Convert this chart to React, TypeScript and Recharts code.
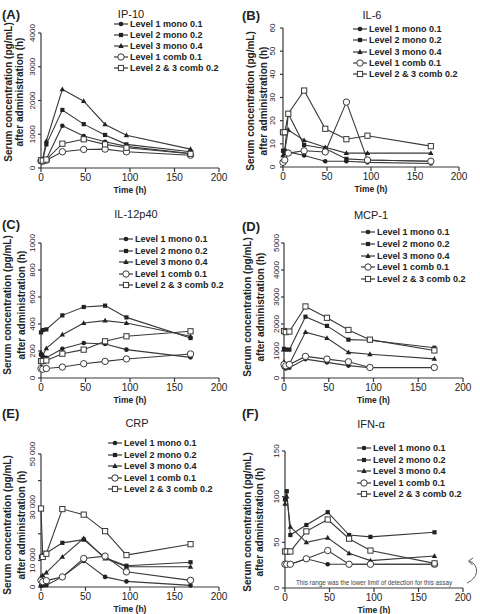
import React from "react";
import { LineChart, Line, XAxis, YAxis, Legend } from "recharts";

// Sampling times (h) shared by every panel
const TIMES = [0, 2, 6, 24, 48, 72, 96, 168];
const X_TICKS = [0, 50, 100, 150, 200];
const SERIES_NAMES = [
  "Level 1 mono 0.1",
  "Level 2 mono 0.2",
  "Level 3 mono 0.4",
  "Level 1 comb 0.1",
  "Level 2 & 3 comb 0.2",
];
const SHAPES = ["dot", "square", "triangle", "circle", "box"];

// (A) IP-10
const ip10L1Mono = [220, 230, 260, 1250, 950, 780, 640, 430];
const ip10L2Mono = [230, 240, 700, 1720, 1300, 980, 700, 480];
const ip10L3Mono = [250, 260, 800, 2330, 1980, 1290, 970, 560];
const ip10L1Comb = [210, 200, 230, 480, 550, 560, 480, 380];
const ip10L23Comb = [230, 220, 250, 720, 850, 700, 600, 420];
const ip10Ticks = [0, 1000, 2000, 3000, 4000];

// (B) IL-6
const il6L1Mono = [2, 6, 6.5, 5, 2.5, 2.5, 2, 1.5];
const il6L2Mono = [7, 7, 23, 9.5, 8, 3.5, 3, 2.5];
const il6L3Mono = [5, 7, 16, 11.5, 8.5, 6, 6, 6];
const il6L1Comb = [2, 3, 6, 7, 6.5, 28, 3, 2.5];
const il6L23Comb = [15, 15, 23, 33, 16.5, 12, 13.5, 9];
const il6Ticks = [0, 10, 20, 30, 40, 50, 60];

// (C) IL-12p40
const il12L1Mono = [170, 160, 150, 217, 259, 252, 210, 153];
const il12L2Mono = [338, 355, 360, 464, 526, 536, 449, 296];
const il12L3Mono = [190, 170, 220, 321, 407, 425, 407, 309];
const il12L1Comb = [70, 65, 70, 81, 106, 123, 141, 178];
const il12L23Comb = [125, 125, 130, 180, 210, 272, 309, 346];
const il12Ticks = [0, 200, 400, 600, 800, 1000];

// (D) MCP-1
const mcpL1Mono = [400, 350, 380, 700, 580, 460, 380, 380];
const mcpL2Mono = [1080, 1050, 1050, 2270, 1930, 1420, 1400, 1120];
const mcpL3Mono = [600, 500, 520, 1700, 1480, 950, 880, 710];
const mcpL1Comb = [500, 450, 500, 800, 700, 600, 390, 390];
const mcpL23Comb = [1740, 1700, 1720, 2650, 2230, 1780, 1420, 1020];
const mcpTicks = [0, 1000, 2000, 3000, 4000, 5000];

// (E) CRP
const crpL1Mono = [500, 600, 700, 3800, 9800, 3800, 2100, 600];
const crpL2Mono = [11300, 11800, 12800, 16600, 17800, 11000, 8000, 9300];
const crpL3Mono = [3800, 4400, 5400, 11300, 18300, 10700, 7600, 7600];
const crpL1Comb = [2500, 2000, 2400, 3800, 10700, 11600, 5700, 2500];
const crpL23Comb = [29500, 11300, 12500, 29300, 27200, 21000, 12000, 16100];
const crpTicks = [0, 10000, 20000, 30000, 40000, 50000];
const crpTickLabels = ["0", "10 000", "", "30 000", "", "50 000"];

// (F) IFN-α
const ifnL1Mono = [26, 26, 26, 32, 26, 26, 26, 26];
const ifnL2Mono = [97, 106, 58, 69, 83, 58, 56, 61];
const ifnL3Mono = [92, 100, 67, 50, 55, 38, 30, 35];
const ifnL1Comb = [26, 26, 26, 32, 41, 26, 26, 26];
const ifnL23Comb = [40, 40, 40, 62, 75, 54, 41, 27];
const ifnTicks = [0, 50, 100, 150];

const FONT = "'Liberation Sans', Arial, sans-serif";
const INK = "#222";
const LINE = "#383838";
const W = 240;
const H = 214;
const Y_W = 20;
const X_H = 30;

type PanelCfg = {
  tag: string;
  title: string;
  left: number;
  top: number;
  series: number[][];
  yTicks: number[];
  yLabels?: string[];
  plot: { l: number; r: number; t: number; b: number };
  tickOff: number;
  titleAt: [number, number];
  tagY: number;
  yTitle: [number, number, number];
  legend: [number, number, number];
  note?: boolean;
};

const PANELS: PanelCfg[] = [
  {
    tag: "(A)", title: "IP-10", left: 0, top: 0,
    series: [ip10L1Mono, ip10L2Mono, ip10L3Mono, ip10L1Comb, ip10L23Comb],
    yTicks: ip10Ticks, plot: { l: 41, r: 219, t: 33, b: 168 }, tickOff: 9,
    titleAt: [131, 14], tagY: 14, yTitle: [8, 19, 92], legend: [121, 24, 11.1],
  },
  {
    tag: "(B)", title: "IL-6", left: 240, top: 0,
    series: [il6L1Mono, il6L2Mono, il6L3Mono, il6L1Comb, il6L23Comb],
    yTicks: il6Ticks, plot: { l: 43, r: 219, t: 28, b: 167 }, tickOff: 11,
    titleAt: [132, 15], tagY: 15, yTitle: [10, 23, 101], legend: [120, 29, 11.25],
  },
  {
    tag: "(C)", title: "IL-12p40", left: 0, top: 200,
    series: [il12L1Mono, il12L2Mono, il12L3Mono, il12L1Comb, il12L23Comb],
    yTicks: il12Ticks, plot: { l: 41, r: 219, t: 43, b: 178 }, tickOff: 9,
    titleAt: [136, 14], tagY: 24, yTitle: [7, 21, 105], legend: [126, 39, 11.5],
  },
  {
    tag: "(D)", title: "MCP-1", left: 240, top: 200,
    series: [mcpL1Mono, mcpL2Mono, mcpL3Mono, mcpL1Comb, mcpL23Comb],
    yTicks: mcpTicks, plot: { l: 44, r: 223, t: 43, b: 178 }, tickOff: 8,
    titleAt: [131, 15], tagY: 26, yTitle: [7, 20, 107], legend: [128, 32, 11.75],
  },
  {
    tag: "(E)", title: "CRP", left: 0, top: 400,
    series: [crpL1Mono, crpL2Mono, crpL3Mono, crpL1Comb, crpL23Comb],
    yTicks: crpTicks, yLabels: crpTickLabels,
    plot: { l: 41, r: 219, t: 54, b: 187 }, tickOff: 9,
    titleAt: [137, 23], tagY: 13, yTitle: [7, 21, 125], legend: [115, 43, 11.5],
  },
  {
    tag: "(F)", title: "IFN-α", left: 240, top: 400,
    series: [ifnL1Mono, ifnL2Mono, ifnL3Mono, ifnL1Comb, ifnL23Comb],
    yTicks: ifnTicks, plot: { l: 45, r: 223, t: 51, b: 188 }, tickOff: 9,
    titleAt: [131, 24], tagY: 13, yTitle: [7, 19, 122], legend: [124, 48, 11.5],
    note: true,
  },
];

function mark(shape: string, cx: number, cy: number, key?: string) {
  switch (shape) {
    case "dot":
      return <circle key={key} cx={cx} cy={cy} r={2.3} fill={INK} />;
    case "square":
      return <rect key={key} x={cx - 2.1} y={cy - 2.1} width={4.2} height={4.2} fill={INK} />;
    case "triangle":
      return (
        <path key={key} d={`M${cx},${cy - 2.9}L${cx + 2.7},${cy + 1.9}L${cx - 2.7},${cy + 1.9}Z`} fill={INK} />
      );
    case "circle":
      return <circle key={key} cx={cx} cy={cy} r={3.2} fill="#fff" stroke={LINE} strokeWidth={1} />;
    default:
      return (
        <rect key={key} x={cx - 2.6} y={cy - 2.6} width={5.2} height={5.2} fill="#fff" stroke={LINE} strokeWidth={1} />
      );
  }
}

function Panel({ p }: { p: PanelCfg }) {
  const rows = TIMES.map((t, i) => {
    const r: Record<string, number> = { t };
    p.series.forEach((s, k) => (r["s" + k] = s[i]));
    return r;
  });
  const yMax = p.yTicks[p.yTicks.length - 1];
  const [lx, ly, lstep] = p.legend;

  const renderYTick = (props: any) => {
    const { y, payload, index } = props;
    const bx = p.plot.l - p.tickOff + 3;
    const label = p.yLabels ? p.yLabels[index] : String(payload.value);
    return (
      <text x={bx} y={y} transform={`rotate(-90 ${bx} ${y})`} textAnchor="middle"
        fontSize={8} fill={INK} fontFamily={FONT}>
        {label}
      </text>
    );
  };

  const legendContent = () => (
    <div style={{ fontFamily: FONT, fontSize: 9, fontWeight: "bold", color: INK }}>
      {SERIES_NAMES.map((n, k) => (
        <div key={n} style={{ display: "flex", alignItems: "center", height: lstep }}>
          <svg width={14} height={10} style={{ display: "block" }}>
            <line x1={0} x2={14} y1={5} y2={5} stroke={LINE} strokeWidth={1.2} />
            {mark(SHAPES[k], 7, 5)}
          </svg>
          <span style={{ marginLeft: 2, whiteSpace: "nowrap" }}>{n}</span>
        </div>
      ))}
    </div>
  );

  const midX = (p.plot.l + p.plot.r) / 2;
  const [t1x, t2x, ty] = p.yTitle;

  return (
    <div style={{ position: "absolute", left: p.left, top: p.top, width: W, height: H }}>
      <LineChart width={W} height={H} data={rows}
        margin={{ top: p.plot.t, right: W - p.plot.r, bottom: H - p.plot.b - X_H, left: p.plot.l - Y_W }}>
        <XAxis dataKey="t" type="number" domain={[0, 200]} ticks={X_TICKS} interval={0}
          height={X_H} tickSize={4} tickMargin={2} stroke={LINE} strokeWidth={1.2}
          tick={{ fontSize: 10, fill: INK, fontFamily: FONT }} />
        <YAxis type="number" domain={[0, yMax]} ticks={p.yTicks} interval={0} width={Y_W}
          tickSize={3} tickMargin={2} stroke={LINE} strokeWidth={1.2} tick={renderYTick} />
        {p.series.map((_, k) => (
          <Line key={k} dataKey={"s" + k} name={SERIES_NAMES[k]} stroke={LINE} strokeWidth={1.1}
            isAnimationActive={false}
            dot={(d: any) => mark(SHAPES[k], d.cx, d.cy, `${p.tag}-${k}-${d.index}`)} />
        ))}
        <Legend content={legendContent} layout="vertical" align="center" verticalAlign="middle"
          wrapperStyle={{ position: "absolute", left: lx - 7, top: ly - lstep / 2, width: "auto", height: "auto" }} />
      </LineChart>
      <svg width={W} height={H} style={{ position: "absolute", left: 0, top: 0, pointerEvents: "none" }}
        fontFamily={FONT} fill={INK}>
        <text x={2} y={p.tagY} dominantBaseline="central" fontSize={13} fontWeight="bold">{p.tag}</text>
        <text x={p.titleAt[0]} y={p.titleAt[1]} dominantBaseline="central" textAnchor="middle" fontSize={11}>
          {p.title}
        </text>
        <text x={midX} y={p.plot.b + 22} dominantBaseline="central" textAnchor="middle" fontSize={8.5} fontWeight="bold">
          Time (h)
        </text>
        <text x={t1x + 4} y={ty} transform={`rotate(-90 ${t1x + 4} ${ty})`} textAnchor="middle" fontSize={10} fontWeight="bold">
          Serum concentration (pg/mL)
        </text>
        <text x={t2x + 4} y={ty} transform={`rotate(-90 ${t2x + 4} ${ty})`} textAnchor="middle" fontSize={10} fontWeight="bold">
          after administration (h)
        </text>
        {p.note && (
          <g>
            <text x={134} y={182} dominantBaseline="central" textAnchor="middle" fontSize={6.3} fill="#444">
              This range was the lower limit of detection for this assay
            </text>
            <path d="M227,183 C236,179 240,170 233,163 L229,161" fill="none" stroke="#444" strokeWidth={0.9} />
            <polyline points="233,158 228.5,161 232.5,165" fill="none" stroke="#444" strokeWidth={0.9} />
          </g>
        )}
      </svg>
    </div>
  );
}

export default function App() {
  return (
    <div style={{ position: "absolute", left: 0, top: 0, width: 480, height: 614, background: "#fff", overflow: "hidden" }}>
      {PANELS.map((p) => (
        <Panel key={p.tag} p={p} />
      ))}
    </div>
  );
}
